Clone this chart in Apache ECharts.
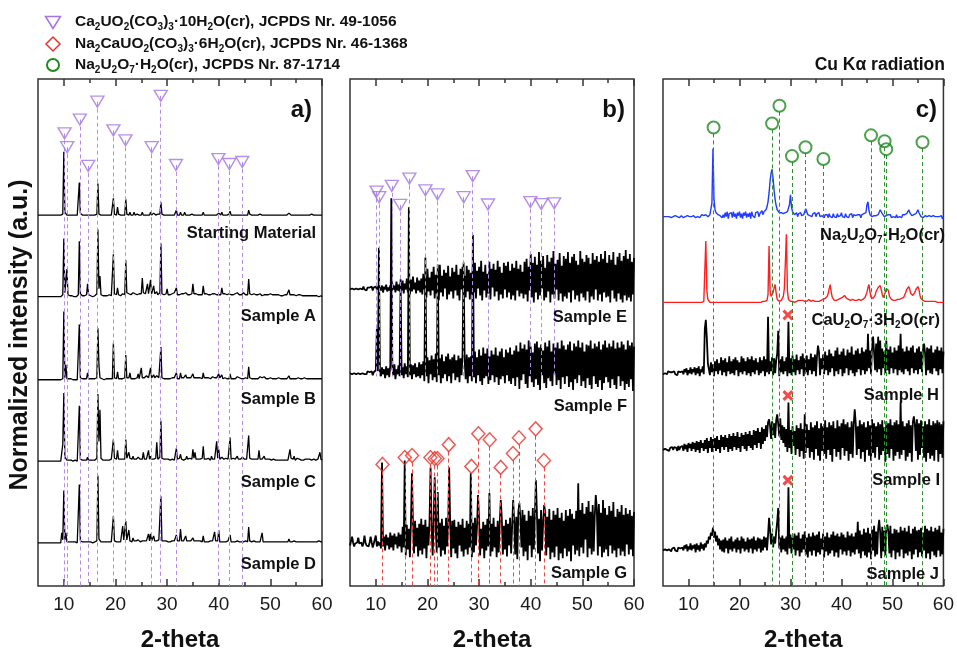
<!DOCTYPE html>
<html>
<head>
<meta charset="utf-8">
<title>XRD patterns</title>
<script src="https://cdn.jsdelivr.net/npm/echarts@6.0.0/dist/echarts.min.js"></script>
<style>
html, body { margin: 0; padding: 0; background: #fff; }
#chart { width: 957px; height: 657px; }
</style>
</head>
<body>
<div id="chart"></div>
<script>
// ---- 2-theta sampling shared by every diffractogram (degrees) ----
const THETA_START = 5;
const THETA_STEP = 0.2;
const THETA_COUNT = 276;

const X_TICKS = [10, 20, 30, 40, 50, 60];
const X_MINOR_TICKS = [15, 25, 35, 45, 55];

// ---- reference phases (peak positions in 2-theta, relative intensities) ----
const CA_NAME = 'Ca{s|2}UO{s|2}(CO{s|3}){s|3}·10H{s|2}O(cr), JCPDS Nr. 49-1056';
const CA_POS = [10.15, 10.65, 13.1, 14.72, 16.5, 19.6, 21.95, 27.02, 28.77, 31.72, 39.93, 42.05, 44.55];
const CA_INT = [42, 28, 56, 9, 74, 45, 35, 28, 80, 10, 16, 11, 13];

const NACA_NAME = 'Na{s|2}CaUO{s|2}(CO{s|3}){s|3}·6H{s|2}O(cr), JCPDS Nr. 46-1368';
const NACA_POS = [11.3, 15.61, 17.02, 20.58, 21.41, 21.93, 24.12, 28.5, 29.85, 32.05, 34.18, 36.56, 37.72, 40.95, 42.55];
const NACA_INT = [13, 20, 22, 20, 19, 19, 33, 11, 44, 38, 10, 24, 40, 49, 17];

const NAU_NAME = 'Na{s|2}U{s|2}O{s|7}·H{s|2}O(cr), JCPDS Nr. 87-1714';
const NAU_POS = [14.92, 26.4, 27.84, 30.3, 32.95, 36.46, 45.8, 48.46, 48.78, 55.9];
const NAU_INT = [44, 48, 66, 15, 24, 12, 36, 30, 22, 29];

// secondary phase flagged with a cross in panel c
const CROSS_POS = 29.5;

// ---- sample names ----
const NAMES_A = ['Starting Material', 'Sample A', 'Sample B', 'Sample C', 'Sample D'];
const NAMES_B = ['Sample E', 'Sample F', 'Sample G'];
const NAMES_C = ['Na{s|2}U{s|2}O{s|7}·H{s|2}O(cr)', 'CaU{s|2}O{s|7}·3H{s|2}O(cr)', 'Sample H', 'Sample I', 'Sample J'];
const PANEL_TAGS = ['a)', 'b)', 'c)'];

// ---- measured intensities, one value per 0.2 deg from 5 to 60 deg (10 values = 2 deg per row) ----
const I_START = [
  0,0,0,0,0,0,0,0,0,0,   0,0,0,0,0,0,0,0,0,0,   0,0,0,0,1,64,3,1,0,0,
  0,0,0,0,0,0,0,0,0,1,   33,2,0,0,0,0,0,0,1,0,  0,0,0,0,0,0,0,1,32,1,
  0,0,0,0,0,0,0,0,0,0,   0,0,0,17,1,0,0,8,1,0,  0,0,0,0,0,16,1,0,0,3,
  0,1,0,3,0,0,1,0,0,1,   0,3,0,0,0,1,0,2,0,3,   0,1,2,0,0,0,1,0,1,13,
  1,0,0,0,0,1,0,0,0,0,   0,0,0,0,5,0,0,0,3,0,   0,0,3,0,0,0,0,0,0,1,
  0,0,0,0,0,0,0,0,1,0,   3,0,0,0,0,0,0,0,0,0,   0,0,0,0,0,2,0,0,3,0,
  0,0,0,0,0,1,4,0,0,0,   0,0,0,0,0,0,0,0,1,0,   0,0,0,0,5,1,0,0,0,0,
  0,0,0,0,0,1,0,0,0,0,   0,0,0,0,0,0,1,0,0,0,   0,0,0,0,0,0,0,0,0,0,
  0,0,0,2,0,0,0,0,2,0,   0,0,0,0,0,0,0,0,0,0,   0,0,0,0,0,1,0,0,0,0,
  0,0,0,0,0,0
];
const I_A = [
  0,0,0,0,0,0,0,0,0,0,   0,0,0,0,0,0,0,0,0,1,   0,0,0,1,2,59,4,3,28,2,
  1,1,0,1,0,0,1,0,1,2,   56,3,1,1,2,1,1,2,13,2, 1,1,1,0,1,1,2,3,68,8,
  21,2,1,1,0,1,1,1,1,2,  2,1,3,43,3,1,2,9,2,1,  1,2,3,2,2,37,4,2,3,3,
  2,3,4,2,3,3,2,3,3,1,   3,19,4,2,3,4,13,3,4,17, 3,4,11,3,2,5,2,3,4,54,
  3,2,2,3,3,8,2,3,2,2,   3,2,4,3,9,2,3,2,4,3,   2,3,3,4,3,2,3,2,3,3,
  13,3,2,3,4,2,3,2,4,2,  11,3,2,3,2,2,3,2,3,3,  2,3,3,2,4,2,3,2,9,3,
  2,3,2,2,3,3,4,2,3,2,   2,3,2,4,3,2,3,2,3,4,   4,2,3,2,18,3,2,2,3,3,
  2,2,3,2,2,3,2,1,2,2,   2,2,1,2,2,3,2,2,1,2,   1,2,1,2,2,1,2,1,1,2,
  1,2,2,7,2,1,2,1,2,1,   1,1,2,1,2,1,1,2,1,1,   1,1,1,1,1,2,1,1,1,1,
  1,1,0,1,1,0
];
const I_B = [
  0,0,0,0,0,0,0,0,0,0,   0,0,0,0,0,0,0,0,0,0,   0,0,0,0,1,69,2,15,1,1,
  1,0,1,0,0,1,0,1,0,1,   56,2,1,1,1,1,1,1,7,1,  1,1,0,1,1,1,1,2,52,15,
  2,1,1,1,0,1,1,1,1,1,   1,1,1,37,2,1,1,8,1,1,  1,2,1,1,2,25,2,1,2,7,
  1,2,1,2,1,2,2,6,1,2,   12,2,1,2,2,4,2,2,1,12, 2,2,5,2,1,4,2,2,2,33,
  2,2,1,2,1,3,1,2,1,1,   2,1,2,1,7,1,2,1,7,2,   1,2,2,5,2,1,2,1,2,1,
  6,2,1,2,1,2,1,2,2,1,   7,2,1,2,1,2,1,1,2,3,   1,2,1,2,1,6,2,1,5,1,
  1,2,1,1,2,1,6,1,2,1,   1,1,2,3,1,2,1,1,2,1,   1,2,1,1,13,2,1,1,1,1,
  3,1,2,1,2,3,1,2,1,3,   1,1,2,1,1,2,1,1,1,1,   1,1,1,2,1,1,1,1,2,1,
  1,1,1,4,1,1,1,2,1,1,   1,1,2,1,1,1,1,1,2,1,   1,1,1,1,1,1,1,2,1,1,
  1,1,1,2,1,1
];
const I_C = [
  0,0,0,0,0,0,0,0,0,0,   0,0,0,0,0,0,0,0,0,0,   0,0,0,1,17,69,4,3,1,1,
  1,0,1,1,0,1,1,1,0,1,   56,2,1,1,1,1,1,1,4,1,  1,1,1,1,1,1,2,3,68,20,
  52,3,1,1,1,1,2,1,1,1,  1,2,1,22,3,1,2,11,2,1, 2,1,2,1,2,22,3,2,9,3,
  1,2,5,2,1,2,1,4,2,2,   2,2,9,2,3,2,3,11,2,5,  2,3,2,2,3,19,2,3,4,41,
  3,2,2,3,2,4,2,2,1,2,   2,2,1,2,13,2,2,3,7,2,  2,1,3,2,5,2,2,3,2,2,
  12,3,9,2,3,2,3,2,2,3,  15,2,3,2,2,3,2,1,5,2,  2,2,3,20,3,12,2,3,4,2,
  2,1,3,2,2,3,24,2,2,3,  2,2,3,5,2,2,2,3,4,2,   2,3,2,2,26,3,2,2,3,2,
  2,2,3,2,11,2,3,2,2,5,  2,2,2,1,2,2,1,2,2,1,   1,2,1,2,1,2,1,2,1,1,
  1,2,1,2,12,3,2,2,5,1,  1,3,1,2,1,1,2,1,1,2,   1,2,1,2,1,1,1,2,1,1,
  1,2,3,9,2,1
];
const I_D = [
  0,0,0,0,0,0,0,0,0,0,   0,0,0,0,0,0,0,0,0,0,   0,0,0,10,3,53,3,10,1,1,
  1,0,1,0,1,0,1,1,0,1,   59,2,1,1,1,1,1,1,3,1,  1,1,1,0,1,1,1,2,68,4,
  2,1,1,1,1,1,1,1,1,1,   1,1,2,27,2,1,1,2,1,1,  1,2,17,3,2,22,3,2,13,2,
  2,1,5,2,1,2,1,3,2,1,   1,2,1,2,2,2,1,9,2,9,   2,2,7,2,1,2,2,3,2,47,
  2,1,2,1,2,3,1,2,1,2,   2,1,2,1,8,2,1,2,14,2,  1,2,1,7,2,1,2,1,2,1,
  5,2,1,2,1,2,1,2,1,1,   7,1,2,1,2,1,1,2,1,2,   1,11,2,1,2,13,1,2,1,2,
  1,2,1,1,2,1,8,1,2,1,   1,1,2,2,1,1,2,1,1,1,   1,2,1,1,16,2,1,1,1,2,
  3,1,2,1,2,1,2,10,1,2,  1,1,1,1,1,2,1,1,1,1,   1,1,1,1,1,1,1,1,1,1,
  1,1,1,4,1,1,1,1,2,1,   1,1,1,1,1,1,1,1,1,1,   1,1,1,1,1,1,1,1,1,1,
  1,2,2,1,1,1
];
const I_E = [
  -1,1,0,1,-1,0,0,2,-1,1,        0,1,-1,2,-1,1,-2,1,0,1,        -1,2,-2,1,0,2,-1,2,-2,1,
  -2,3,-4,2,-1,4,-3,1,-2,3,      -3,5,-1,3,-4,7,-2,4,-3,6,      -2,8,-5,5,-1,10,-4,7,-6,9,
  -3,12,-1,6,-5,11,-2,8,-4,10,   -6,15,-1,12,-9,20,-3,11,-7,17, -2,22,-10,14,-5,18,-12,24,-4,13,
  -8,19,0,16,-11,23,-6,12,-3,21, -10,17,-2,24,-7,14,-12,20,-1,22, -5,13,-9,23,-3,19,-11,16,-6,24,
  -4,26,-10,18,0,22,-7,28,-12,17, -2,24,-9,15,-5,27,-11,20,1,25, -8,19,-3,28,-12,22,-6,16,-10,26,
  -1,23,-9,27,-4,18,-11,25,-7,21, -12,28,-2,20,-8,24,-5,17,-10,27, -6,30,-13,22,-2,35,-9,26,-14,32,
  -4,24,-11,37,-7,28,0,33,-12,21, -9,34,-3,27,-14,31,-6,38,-10,25, -1,29,-12,36,-5,23,-13,33,-8,30,
  -10,37,-4,26,-14,32,-2,35,-11,28, -7,24,-13,38,-5,30,-9,27,-12,34, -3,31,-14,25,-8,36,-11,29,-1,33,
  -12,27,-6,35,-13,30,-4,38,-9,26, -8,34,-14,29,-2,37,-10,24,-13,32, -5,36,-11,28,-14,33,-7,39,-12,30,
  -9,35,-13,27,-6,31
];
const I_F = [
  0,1,-1,1,0,1,-1,0,0,1,         -1,1,0,2,-1,1,-1,2,0,1,        -1,2,-2,1,-1,3,45,2,127,1,
  -3,6,-1,4,-5,7,-2,5,-4,8,      177,5,-2,9,-6,4,-1,8,-3,95,    -2,6,-5,10,-1,7,-4,168,-2,9,
  -6,8,-1,10,-4,6,-3,11,-5,9,    -2,12,-8,117,-3,16,-10,13,-1,18, -7,14,-4,20,-9,110,-2,15,-10,19,
  -5,12,-1,17,-8,20,-3,14,-10,16, 0,19,-7,13,-4,18,-9,15,-2,20, 112,14,-6,19,-10,16,-3,17,-8,140,
  -4,22,-10,16,-2,24,-8,18,-12,26, -5,20,-3,25,-11,17,-7,23,-2,19, -9,26,-4,18,-12,22,-6,25,-3,16,
  -10,24,-2,21,-8,26,-11,19,-5,23, -13,28,-4,22,-16,31,-7,25,-1,29, -11,24,-15,33,-3,27,-9,21,-14,30,
  -6,32,-12,26,-17,29,-2,23,-10,31, -15,27,-5,33,-8,22,-13,30,0,26, -12,31,-7,25,-16,33,-4,28,-11,24,
  -3,29,-14,32,-9,23,-17,30,-6,27, -10,33,-2,26,-13,31,-8,22,-15,29, -5,28,-12,33,-16,25,-3,30,-11,27,
  -14,32,-7,24,-17,29,-10,33,-4,26, -9,30,-15,27,-6,33,-12,25,-16,31, -3,26,-13,32,-8,29,-17,24,-11,33,
  -14,28,-6,31,-18,27
];
const I_G = [
  -1,1,8,2,-2,1,0,2,7,1,         -1,2,-2,1,9,2,-1,1,-2,2,       8,2,-3,1,-1,9,-2,3,-1,2,
  -4,83,-2,8,-6,10,-1,7,-5,12,   -3,9,-6,11,0,8,-4,12,-2,10,    -8,18,-3,85,-11,20,-5,16,-13,22,
  72,19,-9,24,-2,17,-12,21,-6,26, -10,20,-4,25,-14,18,-1,23,78,19, -11,24,68,17,-8,53,-3,22,-12,26,
  -6,19,-10,27,-2,16,78,21,-13,24, -4,25,-9,18,-14,23,-1,20,-7,26, -12,17,-5,24,-10,21,-3,72,-13,22,
  -8,27,-1,19,50,25,-11,16,-4,23, -14,20,-6,26,-2,52,-12,21,-7,27, -3,18,-13,24,-8,22,45,26,-10,19,
  -5,25,-12,21,-1,27,-9,18,45,23, -10,28,-15,33,42,26,-3,35,-12,30, -7,24,-16,34,-1,29,-13,37,-5,27,
  65,31,-9,26,-17,35,-6,22,40,33, -11,28,-3,36,-15,25,-8,34,-13,30, -2,37,-16,27,-9,32,-14,24,-4,35,
  -12,29,-7,36,-17,31,-1,26,-10,34, -6,62,-12,35,-3,42,-9,31,5,38, -13,44,-4,33,-10,40,-7,29,50,36,
  -11,41,-2,32,-13,45,-8,37,-5,30, -12,39,-1,34,-9,43,-6,28,-13,36, -4,33,-11,40,-7,30,-12,37,0,31,
  -10,35,-5,29,-12,33
];
const I_NAU = [
  0,1,0,-1,0,1,0,0,-1,1,         0,-1,1,0,0,1,-1,0,1,0,         -1,1,0,0,1,-1,0,1,0,-1,
  1,0,-1,1,0,1,-1,0,2,0,         1,0,2,1,0,1,2,4,14,69,         18,7,4,3,2,4,1,3,-1,2,
  -1,4,0,5,-2,3,1,4,-1,5,        0,3,-2,4,1,5,-1,3,-2,4,        1,5,-1,3,0,4,-2,5,1,3,
  -1,4,2,5,0,3,1,6,2,5,          5,7,10,15,24,36,44,48,38,26,   17,11,7,5,4,3,4,2,3,2,
  4,3,5,6,12,22,10,5,3,2,        1,4,0,3,2,4,1,3,2,5,           8,5,2,4,1,3,0,3,1,4,
  0,3,1,4,0,2,1,3,-1,2,          0,2,-1,3,0,2,-1,3,0,2,         -1,3,0,2,1,4,0,2,-1,3,
  0,2,-1,2,0,3,-1,2,0,1,         -1,2,0,2,-1,2,0,3,1,4,         12,15,6,2,1,0,2,1,0,1,
  1,2,4,7,8,3,1,0,2,1,           -1,2,0,2,-1,1,0,2,-1,2,        -1,1,0,2,-1,2,0,2,1,3,
  5,7,4,2,1,0,2,1,3,5,           7,4,2,0,1,-1,0,1,-1,0,         -2,1,-1,0,-2,1,-1,0,-2,0,
  -2,0,-1,1,-2,0
];
const I_CAU = [
  0,0,0,0,0,0,0,0,0,0,   0,0,0,0,0,0,0,0,0,0,   0,0,0,0,0,0,0,0,0,0,
  0,0,0,0,0,0,0,0,0,0,   1,3,62,12,3,1,0,0,0,0, 0,0,0,0,0,0,0,0,0,0,
  0,0,0,0,0,0,0,0,0,0,   0,0,0,0,0,0,0,0,0,0,   0,0,0,0,0,0,0,0,0,0,
  0,0,0,0,0,0,0,1,1,1,   1,1,2,8,57,12,6,7,10,15, 18,9,3,1,1,1,2,3,6,14,
  40,69,12,3,1,1,0,1,1,0, 1,1,2,2,3,2,1,2,2,1,  2,1,2,3,2,1,2,2,1,1,
  1,1,2,1,1,2,2,3,3,4,   4,6,9,14,18,10,5,3,2,2, 2,2,3,3,4,5,5,6,7,6,
  4,3,3,2,2,2,3,3,2,2,   2,2,3,3,2,3,3,4,5,7,   10,15,18,10,5,4,4,5,7,11,
  13,15,16,17,13,8,5,6,10,14, 15,12,6,4,3,2,2,3,2,3, 3,2,3,3,4,4,5,7,10,13,
  14,16,13,9,7,7,8,10,13,15, 16,13,7,4,3,2,2,1,1,1, 1,1,1,1,1,1,0,1,1,0,
  1,0,1,0,1,0
];
const I_H = [
  -1,1,0,1,-1,2,0,1,-1,1,        0,2,-1,1,-2,2,0,1,-1,2,        -1,4,1,5,-2,3,0,6,-1,4,
  1,6,-2,5,0,7,-3,4,1,7,         -1,45,54,35,10,8,-2,11,1,9,    -3,12,2,14,-1,10,3,16,-2,13,
  1,15,-3,11,2,17,-1,12,0,14,    -2,16,3,13,-3,11,1,17,-1,15,   2,12,-2,16,0,14,-3,17,1,13,
  -1,15,3,11,-2,16,0,13,2,17,    -3,14,1,57,-1,12,2,16,-2,15,   0,13,20,43,-3,14,1,17,-1,12,
  2,16,-3,52,0,15,-2,18,1,14,    -2,19,3,13,-1,17,4,20,-3,15,   1,18,-2,14,3,20,-1,16,2,19,
  -3,17,28,21,-2,15,4,19,-1,22,  3,18,-2,24,1,20,5,17,-3,23,    2,26,-1,19,4,22,-3,25,0,18,
  5,24,-2,21,3,27,0,19,-3,23,    1,25,4,20,-2,26,3,22,-1,24,    2,40,5,23,-1,26,37,21,3,30,
  1,37,4,33,-2,25,5,22,0,33,     3,24,-1,27,5,21,0,26,4,23,     -2,28,3,40,1,25,-1,22,4,27,
  2,23,-2,26,5,28,0,21,3,25,     -1,27,4,22,1,24,30,20,-2,26,   3,25,0,28,-1,21,5,24,2,27,
  -2,23,4,26,0,22
];
const I_I = [
  -1,1,0,2,-1,1,-2,1,0,2,        -1,2,0,1,-2,3,-1,2,0,3,        -2,5,0,4,-3,6,1,5,-2,7,
  0,6,-3,8,-1,7,-4,9,1,6,        -2,9,0,11,-4,8,1,12,-3,10,     1,11,-2,13,0,9,-4,14,2,12,
  -1,14,2,11,-3,15,0,13,-2,16,   2,13,-1,17,1,12,-3,16,3,14,    0,17,-2,15,3,18,1,14,-1,19,
  4,18,1,21,6,17,0,22,5,20,      8,24,12,27,30,23,10,28,14,26,  11,29,35,25,13,31,9,24,6,22,
  2,20,-3,47,1,19,-5,23,3,18,    -6,24,0,21,-8,26,-2,20,-10,35, -4,25,1,19,-9,27,-3,22,-11,24,
  0,28,-7,21,-12,26,-2,23,-5,29, -10,22,-1,27,-6,24,-13,28,0,21, -8,29,-3,23,-11,26,1,30,-7,25,
  -2,27,-12,22,-5,28,-9,24,40,26, -6,23,0,29,-10,25,-3,27,-13,22, -1,28,-7,24,-12,30,-4,26,-9,23,
  2,27,-11,25,-6,29,-2,22,-13,28, -5,26,-9,30,0,24,-12,27,-7,29, -3,25,-10,47,-6,28,-1,23,-12,26,
  -8,29,-4,24,-13,27,33,25,-2,30, -11,26,-6,29,1,23,-9,28,-13,25, -4,30,-10,24,-7,28,-12,26,-1,29,
  -13,27,-5,25,-9,28
];
const I_J = [
  -1,1,0,2,-1,1,0,1,-2,1,        0,2,-1,1,-2,2,0,1,-1,2,        -1,4,1,5,-2,3,0,6,-1,4,
  1,5,-3,6,0,4,-2,7,1,5,         -1,6,2,9,6,13,10,17,14,22,     12,18,8,14,4,11,0,9,-2,10,
  -3,12,1,9,-4,11,0,13,-2,8,     1,10,-3,12,0,9,-4,13,1,11,     -2,8,0,12,-3,10,1,11,-4,13,
  0,9,-2,12,1,11,-3,10,-1,13,    2,12,-1,14,32,20,5,16,2,13,    6,18,28,42,1,12,-3,14,0,11,
  -2,13,-5,63,1,15,-4,12,0,16,   -6,14,-1,17,-7,11,-3,15,0,18,  -5,12,-8,16,-2,13,-6,17,-1,14,
  -7,15,-3,18,-5,11,0,16,-8,13,  -2,17,-6,12,-4,15,-1,18,-7,14, -3,16,-8,13,0,17,-5,15,-2,12,
  -6,18,-1,14,-7,16,-3,13,-5,17, 0,28,-4,19,-9,15,-2,21,-6,17,  -8,22,-3,16,-10,20,-1,24,-7,18,
  -5,21,30,17,-9,23,-2,19,-6,22, 25,18,-4,24,-8,16,-1,21,-10,20, -3,17,-7,23,0,19,-9,22,-4,18,
  -6,24,-2,16,-10,21,-5,23,0,19, -8,20,-3,22,-7,17,-1,24,-9,21, -4,19,-10,23,-2,18,-6,22,-8,20,
  -1,24,-7,17,-5,21
];

// ---------------------------------------------------------------------------
const THETA = [];
for (let i = 0; i < THETA_COUNT; i++) THETA.push(+(THETA_START + i * THETA_STEP).toFixed(1));

[I_START, I_A, I_B, I_C, I_D, I_E, I_F, I_G, I_NAU, I_CAU, I_H, I_I, I_J].forEach((a, k) => {
  if (a.length !== THETA_COUNT) throw new Error('pattern ' + k + ' has ' + a.length + ' points');
});

const FONT = "'Liberation Sans', Arial, Helvetica, sans-serif";
const PURPLE = '#a374e2', PURPLE_DASH = '#b48ce8';
const RED = '#e8322c', RED_DASH = '#ec4a44';
const GREEN = '#1f8a1f', GREEN_DASH = '#2e8f2e';
const BLUE = '#1f3cff', TRACE_RED = '#ff1f1f';

// plot frames (pixels) and vertical stacking of the traces (axis units = pixels)
const PLOT_TOP = 79, PLOT_H = 513;
const FRAMES = [{ left: 38, width: 284 }, { left: 350, width: 284 }, { left: 663, width: 283 }];

const PANELS = [
  { traces: [I_START, I_A, I_B, I_C, I_D], offsets: [375.3, 292.7, 208.7, 126.3, 43.7], colors: ['#000', '#000', '#000', '#000', '#000'], widths: [1.3, 1.3, 1.3, 1.3, 1.3],
    names: NAMES_A, labelY: [233, 316, 399, 482, 564], labelRight: 316 },
  { traces: [I_E, I_F, I_G], offsets: [301, 215.3, 42], colors: ['#000', '#000', '#000'], widths: [1.8, 1.8, 1.8],
    names: NAMES_B, labelY: [317, 406, 573], labelRight: 627 },
  { traces: [I_NAU, I_CAU, I_H, I_I, I_J], offsets: [373.7, 287, 215.3, 138.7, 37], colors: [BLUE, TRACE_RED, '#000', '#000', '#000'], widths: [1.4, 1.4, 1.8, 1.8, 1.8],
    names: NAMES_C, labelY: [235, 320, 395, 480, 574], labelRight: [945, 940, 939, 940, 939] }
];

// reference markers and the dashed drop lines below them
const MARKER_STYLES = {
  ca:   { symbol: 'triangle', size: [13, 11], rotate: 180, color: PURPLE, dash: PURPLE_DASH, gap: 0, width: 1.4 },
  naca: { symbol: 'diamond',  size: [13, 14], rotate: 0,   color: RED,    dash: RED_DASH,    gap: 7, width: 1.5 },
  nau:  { symbol: 'circle',   size: 12,       rotate: 0,   color: GREEN,  dash: GREEN_DASH,  gap: 6, width: 2 }
};
const MARKER_SETS = [
  { panel: 0, pos: CA_POS,   ints: CA_INT,   base: 416,   scale: 1,    style: 'ca',   lineTo: 0 },
  { panel: 1, pos: CA_POS,   ints: CA_INT,   base: 381.9, scale: 0.41, style: 'ca',   lineTo: 212 },
  { panel: 1, pos: NACA_POS, ints: NACA_INT, base: 110,   scale: 1,    style: 'naca', lineTo: 0 },
  { panel: 2, pos: NAU_POS,  ints: NAU_INT,  base: 420,   scale: 1,    style: 'nau',  lineTo: 0 }
];

const grids = [], xAxes = [], yAxes = [], series = [], graphics = [];

FRAMES.forEach((f, g) => {
  grids.push({ left: f.left, width: f.width, top: PLOT_TOP, height: PLOT_H, show: true,
    borderColor: '#333', borderWidth: 1.5, backgroundColor: 'transparent' });
  const common = { gridIndex: g, type: 'value', min: 5, max: 60, splitLine: { show: false }, axisLine: { show: false } };
  const tick = (len, vals) => ({ show: true, inside: true, length: len, customValues: vals, lineStyle: { color: '#333', width: 1.5 } });
  xAxes.push(Object.assign({}, common, {
    position: 'bottom', axisTick: tick(7, X_TICKS),
    axisLabel: { customValues: X_TICKS, fontSize: 19, color: '#1a1a1a', margin: 9, fontFamily: FONT },
    name: '2-theta', nameLocation: 'middle', nameGap: 42,
    nameTextStyle: { fontSize: 24, fontWeight: 'bold', color: '#111', fontFamily: FONT }
  }));
  xAxes.push(Object.assign({}, common, { position: 'bottom', axisTick: tick(4, X_MINOR_TICKS), axisLabel: { show: false } }));
  xAxes.push(Object.assign({}, common, { position: 'top', axisTick: tick(7, X_TICKS), axisLabel: { show: false } }));
  xAxes.push(Object.assign({}, common, { position: 'top', axisTick: tick(4, X_MINOR_TICKS), axisLabel: { show: false } }));
  yAxes.push({ gridIndex: g, type: 'value', min: 0, max: PLOT_H, show: false });
});

const SUB_RICH = (size) => ({
  s: { fontSize: Math.round(size * 0.62), fontWeight: 'bold', fontFamily: FONT, lineHeight: 22, padding: [Math.round(size * 0.62), 0, 0, 0] }
});

PANELS.forEach((p, g) => {
  p.traces.forEach((vals, k) => {
    series.push({
      type: 'line', xAxisIndex: 4 * g, yAxisIndex: g, silent: true, z: 2,
      symbol: 'none', showSymbol: false,
      lineStyle: { color: p.colors[k], width: p.widths[k], join: 'bevel' },
      data: vals.map((v, i) => [THETA[i], v + p.offsets[k]])
    });
    const right = Array.isArray(p.labelRight) ? p.labelRight[k] : p.labelRight;
    graphics.push({
      type: 'text', x: right, y: p.labelY[k], z: 10,
      style: { text: p.names[k], align: 'right', verticalAlign: 'middle', fill: '#111',
        fontSize: 16.5, fontWeight: 'bold', fontFamily: FONT, lineHeight: 22, rich: SUB_RICH(16.5) }
    });
  });
});

MARKER_SETS.forEach(m => {
  const st = MARKER_STYLES[m.style];
  const pts = m.pos.map((x, i) => [x, m.base + m.scale * m.ints[i]]);
  series.push({
    type: 'scatter', xAxisIndex: 4 * m.panel, yAxisIndex: m.panel, silent: true, z: 6,
    symbol: st.symbol, symbolSize: st.size, symbolRotate: st.rotate,
    itemStyle: { color: 'rgba(255,255,255,0)', borderColor: st.color, borderWidth: st.width },
    data: pts,
    markLine: {
      silent: true, symbol: ['none', 'none'], label: { show: false }, animation: false,
      lineStyle: { color: st.dash, width: 1, type: [4, 3], opacity: 1 },
      emphasis: { disabled: true },
      data: pts.map(pt => [{ coord: [pt[0], pt[1] - st.gap] }, { coord: [pt[0], m.lineTo] }])
    }
  });
});

// red crosses above the 29.5 deg reflection of samples H, I and J
function peakNear(vals, pos) {
  let best = -Infinity;
  THETA.forEach((t, i) => { if (Math.abs(t - pos) <= 0.25 && vals[i] > best) best = vals[i]; });
  return best;
}
const crossData = [2, 3, 4].map(k => [CROSS_POS, PANELS[2].offsets[k] + peakNear(PANELS[2].traces[k], CROSS_POS) + 7]);
series.push({
  type: 'scatter', xAxisIndex: 8, yAxisIndex: 2, silent: true, z: 7,
  symbol: 'path://M0,2 L2,0 L5,3 L8,0 L10,2 L7,5 L10,8 L8,10 L5,7 L2,10 L0,8 L3,5 Z',
  symbolSize: 11, itemStyle: { color: '#f01e1e' }, data: crossData
});

// legend
const LEGEND_ROWS = [
  { y: 22, name: CA_NAME }, { y: 44, name: NACA_NAME }, { y: 65, name: NAU_NAME }
];
graphics.push({ type: 'polygon', shape: { points: [[45.5, 16.5], [60.5, 16.5], [53, 28.5]] },
  style: { fill: 'none', stroke: PURPLE, lineWidth: 1.5 } });
graphics.push({ type: 'polygon', shape: { points: [[53, 37], [60, 44], [53, 51], [46, 44]] },
  style: { fill: 'none', stroke: RED, lineWidth: 1.5 } });
graphics.push({ type: 'circle', shape: { cx: 53, cy: 65, r: 6 },
  style: { fill: 'none', stroke: GREEN, lineWidth: 2 } });
LEGEND_ROWS.forEach(r => graphics.push({
  type: 'text', x: 75, y: r.y,
  style: { text: r.name, align: 'left', verticalAlign: 'middle', fill: '#111',
    fontSize: 15.5, fontWeight: 'bold', fontFamily: FONT, lineHeight: 22, rich: SUB_RICH(15.5) }
}));

graphics.push({ type: 'text', x: 945, y: 65,
  style: { text: 'Cu Kα radiation', align: 'right', verticalAlign: 'middle', fill: '#111',
    fontSize: 17.5, fontWeight: 'bold', fontFamily: FONT } });

const TAG_RIGHT = [312, 625, 937];
PANEL_TAGS.forEach((t, g) => graphics.push({ type: 'text', x: TAG_RIGHT[g], y: 110,
  style: { text: t, align: 'right', verticalAlign: 'middle', fill: '#111',
    fontSize: 24, fontWeight: 'bold', fontFamily: FONT } }));

graphics.push({ type: 'text', x: 20, y: 335, rotation: Math.PI / 2,
  style: { text: 'Normalized intensity (a.u.)', align: 'center', verticalAlign: 'middle', fill: '#111',
    fontSize: 25, fontWeight: 'bold', fontFamily: FONT } });

const chart = echarts.init(document.getElementById('chart'), null, { renderer: 'canvas' });
chart.setOption({
  animation: false,
  backgroundColor: '#fff',
  textStyle: { fontFamily: FONT },
  grid: grids, xAxis: xAxes, yAxis: yAxes, series: series,
  graphic: { elements: graphics }
});
</script>
</body>
</html>
